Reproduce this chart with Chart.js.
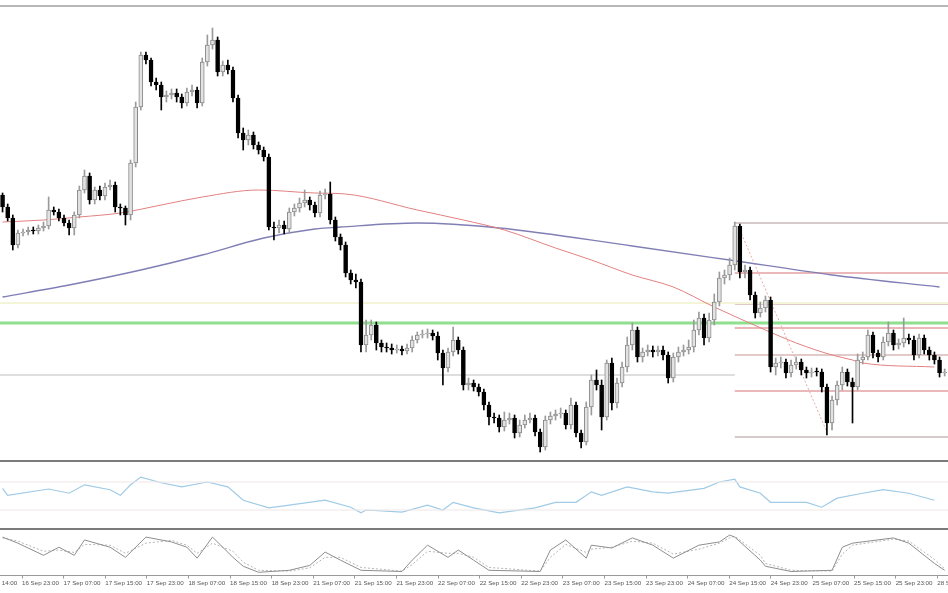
<!DOCTYPE html>
<html>
<head>
<meta charset="utf-8">
<script src="https://cdn.jsdelivr.net/npm/chart.js@4.4.1/dist/chart.umd.min.js"></script>
<style>
  html, body { margin: 0; padding: 0; background: #fff; }
  #wrap { position: relative; width: 948px; height: 593px; overflow: hidden; }
  canvas { position: absolute; left: 0; }
  .sep { position: absolute; left: 0; width: 948px; }
</style>
</head>
<body>
<div id="wrap">
  <canvas id="main" width="948" height="452" style="top:8px"></canvas>
  <canvas id="rsi" width="948" height="66" style="top:462px"></canvas>
  <canvas id="stoch" width="948" height="58" style="top:530px"></canvas>
  <div class="sep" style="top:5px;height:2px;background:#b8b8b8"></div>
  <div class="sep" style="top:460px;height:2px;background:#7a7a7a"></div>
  <div class="sep" style="top:528px;height:2px;background:#7a7a7a"></div>
</div>
<script>
// Ceny w pipsach ponad 1.1000 (kurs = 1.1000 + wartosc / 10000), swiece H1
const firstOpen = 275;
const closes = [
  263,252,225,237,238,240,239,242,244,260,
  258,252,247,242,255,280,294,270,280,274,
  283,285,263,262,255,307,363,415,410,388,
  385,373,375,377,373,367,378,380,367,408,
  425,430,398,405,400,372,337,330,335,325,
  320,313,243,242,245,241,258,262,267,270,
  265,257,275,276,250,233,225,197,190,188,
  125,135,145,127,123,122,120,121,119,122,
  130,135,136,137,134,117,102,118,130,120,
  85,87,83,78,65,53,52,43,50,52,
  37,45,50,52,38,23,50,54,56,57,
  45,65,37,28,63,90,85,53,107,67,
  87,103,125,140,113,118,120,118,120,115,
  92,113,118,120,123,140,152,132,150,168,
  192,195,205,244,198,200,175,157,162,170,
  103,107,108,97,105,108,100,97,98,98,
  83,47,70,85,98,88,83,110,113,135,
  117,113,128,137,125,127,132,130,115,132,
  120,115,110,97,98
];
const highs = [
  277,266,255,240,241,243,243,245,248,273,
  263,261,255,250,258,284,300,297,283,284,
  287,290,288,266,264,310,368,418,418,412,
  392,388,379,381,381,376,382,385,383,412,
  435,442,433,409,410,403,375,342,340,338,
  328,323,316,248,250,249,262,266,272,280,
  273,268,279,281,288,253,236,228,200,196,
  191,150,150,148,130,127,126,125,124,126,
  134,138,140,141,140,138,120,122,143,133,
  123,92,90,86,81,68,57,55,58,57,
  55,50,55,57,55,41,54,58,60,62,
  60,72,68,40,68,95,100,90,110,112,
  92,108,133,147,143,122,125,124,124,124,
  118,117,123,125,130,150,158,156,157,176,
  198,200,212,248,246,205,203,178,168,174,
  173,112,113,111,110,113,111,103,102,102,
  101,86,74,89,103,101,92,116,118,140,
  138,120,133,148,140,131,152,136,134,136,
  135,123,118,113,101
];
const lows = [
  258,249,220,222,234,235,236,236,239,241,
  255,249,244,235,235,252,277,266,266,270,
  270,280,258,255,245,250,303,360,406,384,
  380,360,368,371,368,362,364,374,362,364,
  404,421,394,394,396,368,332,320,325,321,
  316,309,240,230,237,236,237,254,258,263,
  260,253,253,271,246,229,220,193,186,182,
  118,118,130,120,118,118,116,117,115,116,
  118,127,132,132,130,110,85,98,114,116,
  80,80,79,74,60,45,47,38,39,46,
  32,33,42,47,34,18,20,46,50,52,
  41,41,33,22,25,55,80,40,50,60,
  62,83,98,120,108,108,114,113,114,110,
  87,88,108,114,116,118,135,125,128,145,
  164,186,190,200,192,192,170,152,153,158,
  98,95,102,92,93,101,95,92,93,94,
  78,35,40,65,80,84,47,80,106,110,
  112,108,110,124,120,121,123,126,110,112,
  116,110,106,93,94
];

// srednie kroczace (odczytane w wybranych swiecach)
const maFastIdx = [0,8,15,23,31,39,50,61,67,81,90,98,108,115,123,131,139,149,155,162,166,168,182];
const maFast    = [248,250,253,257,265,273,280,277,276,260,250,240,222,210,195,183,163,140,127,115,110,107,103];
const maSlowIdx = [0,13,27,39,51,61,66,81,97,123,142,162,183];
const maSlow    = [173,185,200,215,232,241,243,247,242,224,210,195,183];

// poziomy
const greenLevel = 147;
const yellowLevel = 167;
const greyLevel = 95;
const fiboStart = 143;
const fiboLevels = [247,197,166,142,115,79,33];
const fiboSwing = [[144, 240], [161, 38]];

// RSI
const rsiIdx  = [0,1,9,13,16,21,23,25,27,31,35,40,44,47,52,56,63,68,70,71,78,83,86,88,92,97,104,108,112,115,117,122,127,130,137,140,143,144,148,150,157,160,163,168,172,177,182];
const rsiVals = [61,51,60,54,66,59,51,66,77,69,63,70,63,44,33,37,44,34,26,30,27,37,30,41,33,26,33,41,41,56,51,63,56,54,61,70,74,63,54,41,41,34,47,54,59,54,44];

// Stochastic
const stochIdx    = [0,3,8,11,14,16,21,24,28,33,36,38,41,45,47,50,56,60,63,66,70,78,80,83,87,89,92,95,105,107,110,114,115,119,123,127,131,136,140,142,143,148,149,154,162,164,166,174,177,182,184];
const stochMain   = [90,75,45,65,45,83,65,40,90,78,65,38,90,40,18,3,8,20,53,33,8,5,33,70,40,58,33,8,5,58,83,38,70,63,88,70,38,70,78,95,90,33,18,5,8,65,75,88,75,25,8];
const stochSignal = [88,80,55,58,52,72,70,50,75,82,70,50,75,55,28,8,6,14,40,40,15,6,22,55,50,50,40,15,6,40,72,52,60,65,80,75,48,60,75,88,92,45,25,8,6,48,70,85,80,35,12];

const timeLabels = ['16 Sep 14:00','16 Sep 23:00','17 Sep 07:00','17 Sep 15:00','17 Sep 23:00','18 Sep 07:00',
  '18 Sep 15:00','18 Sep 23:00','21 Sep 07:00','21 Sep 15:00','21 Sep 23:00','22 Sep 07:00','22 Sep 15:00',
  '22 Sep 23:00','23 Sep 07:00','23 Sep 15:00','23 Sep 23:00','24 Sep 07:00','24 Sep 15:00','24 Sep 23:00',
  '25 Sep 07:00','25 Sep 15:00','25 Sep 23:00','28 Sep 07:00'];

// --- pomocnicze ---
const X_MIN = -0.5, X_MAX = 184.65;
const px = v => 1.1 + v / 10000;
const pts = (idx, vals, f = v => v) => idx.map((x, i) => ({ x, y: f(vals[i]) }));
const line = (data, color, width, extra) => Object.assign(
  { type: 'line', data, borderColor: color, borderWidth: width, pointRadius: 0, fill: false }, extra || {});
const hline = (level, from, color, width, extra) =>
  line([{ x: from, y: px(level) }, { x: X_MAX, y: px(level) }], color, width, extra);

const opens = closes.map((c, i) => i ? closes[i - 1] : firstOpen);
const isUp = closes.map((c, i) => c > opens[i]);

const noUi = { legend: { display: false }, tooltip: { enabled: false } };
Chart.defaults.animation = false;
Chart.defaults.font.family = "'Liberation Sans', Arial, sans-serif";

// --- wykres glowny ---
new Chart(document.getElementById('main'), {
  type: 'bar',
  data: {
    datasets: [
      {
        // korpusy swiec
        data: closes.map((c, i) => ({ x: i, y: [px(opens[i]), px(c)] })),
        backgroundColor: isUp.map(u => u ? '#e2e2e2' : '#000'),
        borderColor: isUp.map(u => u ? '#8a8a8a' : '#000'),
        borderWidth: 1,
        borderSkipped: false,
        barThickness: 4,
        minBarLength: 1,
        grouped: false
      },
      {
        // knoty
        data: closes.map((c, i) => ({ x: i, y: [px(lows[i]), px(highs[i])] })),
        backgroundColor: isUp.map(u => u ? '#9a9a9a' : '#000'),
        barThickness: 1,
        grouped: false
      },
      line(pts(maFastIdx, maFast, px), '#e38080', 1, { cubicInterpolationMode: 'monotone' }),
      line(pts(maSlowIdx, maSlow, px), '#7f7fb5', 1.3, { cubicInterpolationMode: 'monotone' }),
      hline(greenLevel, X_MIN, '#8ee08e', 3),
      hline(yellowLevel, X_MIN, '#f4f4d6', 2),
      line([{ x: X_MIN, y: px(greyLevel) }, { x: fiboStart, y: px(greyLevel) }], '#dedede', 2),
      ...fiboLevels.map((lv, k) => hline(lv, fiboStart, (k === 0 || k === 6) ? '#c9b9b9' : (k % 2 ? '#e3a0a0' : '#d9b8b8'), 1.5)),
      line(fiboSwing.map(([x, y]) => ({ x, y: px(y) })), '#e8a8a8', 1, { borderDash: [2, 2] })
    ]
  },
  options: {
    responsive: false,
    layout: { padding: 0, autoPadding: false },
    plugins: noUi,
    scales: {
      x: { type: 'linear', min: X_MIN, max: X_MAX, offset: false, display: false },
      y: { min: px(10), max: px(462), display: false }
    }
  }
});

// --- RSI ---
new Chart(document.getElementById('rsi'), {
  type: 'line',
  data: {
    datasets: [
      line([{ x: X_MIN, y: 70 }, { x: X_MAX, y: 70 }], '#f1e6e6', 1),
      line([{ x: X_MIN, y: 30 }, { x: X_MAX, y: 30 }], '#f1e6e6', 1),
      line(pts(rsiIdx, rsiVals), '#9fcbe6', 1.2)
    ]
  },
  options: {
    responsive: false,
    layout: { padding: 0, autoPadding: false },
    plugins: noUi,
    scales: {
      x: { type: 'linear', min: X_MIN, max: X_MAX, display: false },
      y: { min: 4.3, max: 98.6, display: false }
    }
  }
});

// --- Stochastic + os czasu ---
const tickPos = timeLabels.map((_, k) => 3.8 + 8.125 * (k - 1));
new Chart(document.getElementById('stoch'), {
  type: 'line',
  data: {
    datasets: [
      line(pts(stochIdx, stochMain), '#8e8e8e', 1),
      line(pts(stochIdx, stochSignal), '#b4b4b4', 1, { borderDash: [2, 2] })
    ]
  },
  options: {
    responsive: false,
    layout: { padding: 0, autoPadding: false },
    plugins: noUi,
    scales: {
      x: {
        type: 'linear', min: X_MIN, max: X_MAX,
        afterBuildTicks: axis => { axis.ticks = tickPos.map(v => ({ value: v })); },
        // etykiety maja wychodzic poza krawedz, wiec bez dodatkowego marginesu
        afterFit: axis => { axis.paddingLeft = 0; axis.paddingRight = 0; },
        border: { display: true, color: '#9a9a9a', width: 1 },
        grid: { drawOnChartArea: false, drawTicks: true, tickLength: 3, color: '#9a9a9a' },
        ticks: {
          autoSkip: false, maxRotation: 0, align: 'start', padding: 1,
          color: '#555', font: { size: 6.2 },
          callback: (v, i) => timeLabels[i]
        }
      },
      y: { min: -5, max: 107.5, display: false }
    }
  }
});
</script>
</body>
</html>
